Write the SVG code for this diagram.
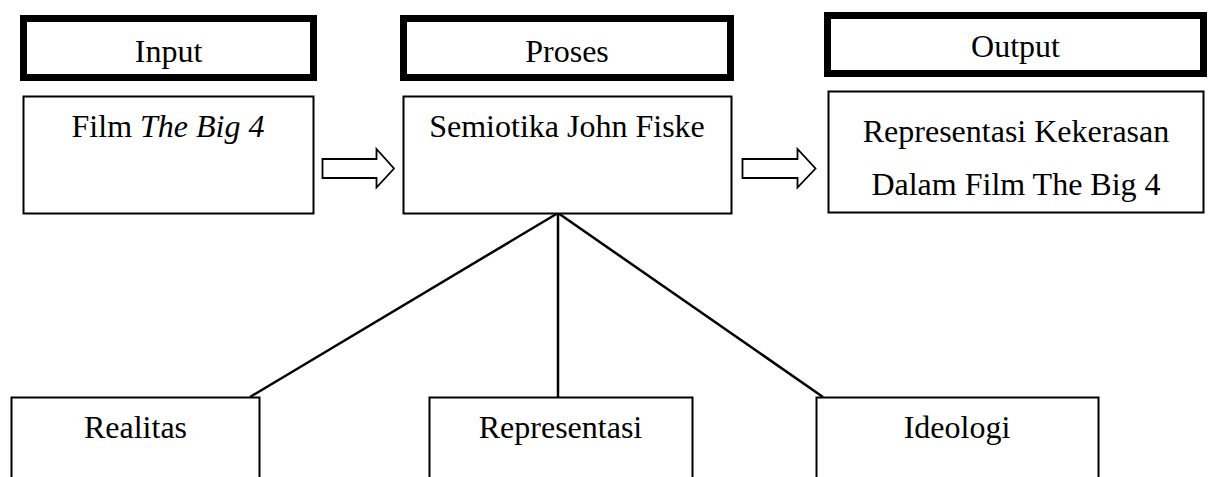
<svg xmlns="http://www.w3.org/2000/svg" width="1212" height="477" viewBox="0 0 1212 477">
<style>
text{font-family:"Liberation Serif","Times New Roman",serif;font-size:32px;fill:#000;text-anchor:middle}
.hdr{fill:#fff;stroke:#000;stroke-width:7}
.box{fill:#fff;stroke:#000;stroke-width:2}
.arr{fill:#fff;stroke:#000;stroke-width:1.8;stroke-linejoin:miter}
.ln{stroke:#000;stroke-width:2.5;fill:none}
</style>
<rect width="1212" height="477" fill="#fff"/>
<g id="connectors">
<line class="ln" x1="558" y1="213" x2="250" y2="397"/>
<line class="ln" x1="558" y1="213" x2="558" y2="397"/>
<line class="ln" x1="558" y1="213" x2="823" y2="397"/>
<polygon id="arrow1" class="arr" points="322.5,159 376.5,159 376.5,149 394,168.5 376.5,187.5 376.5,178 322.5,178"/>
<polygon id="arrow2" class="arr" points="742.5,159 797.5,159 797.5,149 815.5,168.5 797.5,187.5 797.5,178 742.5,178"/>
</g>
<g id="input-header"><rect class="hdr" x="23.5" y="18.5" width="290" height="59"/><text x="168.5" y="62">Input</text></g>
<g id="proses-header"><rect class="hdr" x="403.5" y="18.5" width="327" height="59"/><text x="567" y="62">Proses</text></g>
<g id="output-header"><rect class="hdr" x="827.5" y="15.5" width="376" height="58"/><text x="1015.5" y="57">Output</text></g>
<g id="input"><rect class="box" x="23.5" y="96.5" width="290" height="117"/><text x="168" y="137">Film <tspan font-style="italic">The Big 4</tspan></text></g>
<g id="proses"><rect class="box" x="403.5" y="96.5" width="328" height="117"/><text x="567" y="137">Semiotika John Fiske</text></g>
<g id="output"><rect class="box" x="828.5" y="91.5" width="375" height="121"/><text x="1016" y="142">Representasi Kekerasan</text><text x="1016" y="195">Dalam Film The Big 4</text></g>
<g id="realitas"><rect class="box" x="11.5" y="397.5" width="248" height="100"/><text x="135.5" y="438">Realitas</text></g>
<g id="representasi"><rect class="box" x="429.5" y="397.5" width="263" height="100"/><text x="560.5" y="438">Representasi</text></g>
<g id="ideologi"><rect class="box" x="816.5" y="397.5" width="282" height="100"/><text x="957" y="438">Ideologi</text></g>
</svg>
